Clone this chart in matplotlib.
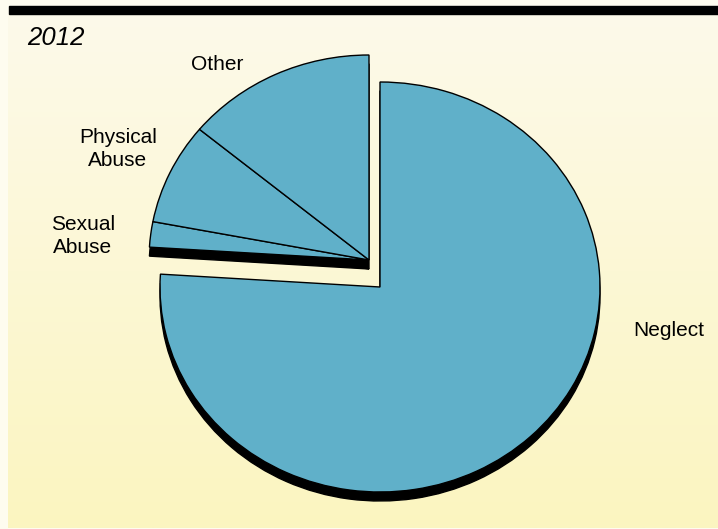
import numpy as np
import matplotlib.pyplot as plt
from matplotlib.colors import LinearSegmentedColormap

plt.rcParams['font.family'] = ['Liberation Sans', 'DejaVu Sans']

# data (share of cases, %)
categories = ['Neglect', 'Sexual\nAbuse', 'Physical\nAbuse', 'Other']
shares = [76.0, 2.0, 8.0, 14.0]
year = '2012'

W, H = 718, 529          # figure size in px
RX, RY = 220, 205        # pie radius in px (slightly squashed ellipse)
blue = '#60b0c9'


def to_data(px, py):
    return px / RX, (H - py) / RY


fig = plt.figure(figsize=(W / 100, H / 100), dpi=100, facecolor='#fefcef')

# panel with soft yellow gradient
bg = fig.add_axes([8 / W, 1 / H, 1 - 8 / W, 514 / H])
cmap = LinearSegmentedColormap.from_list('bg', ['#fdfaea', '#fbf5c0'])
bg.imshow(np.linspace(0, 1, 256).reshape(-1, 1), aspect='auto', cmap=cmap,
          extent=[0, 1, 0, 1], origin='upper')
bg.axis('off')

# black rule at the top
fig.add_artist(plt.Rectangle((9 / W, 1 - 14.3 / H), 1, 8 / H,
                             transform=fig.transFigure, color='black'))

ax = fig.add_axes([0, 0, 1, 1])
ax.set_facecolor('none')


def draw(offset, color, z):
    main_c = to_data(380, 287 + offset)
    grp_c = to_data(369, 260 + offset)
    wedges, _ = ax.pie(shares, startangle=90, counterclock=False,
                       colors=[color] * len(shares), center=main_c, radius=1,
                       wedgeprops=dict(edgecolor='black', linewidth=1.0))
    # small slices pulled out together
    for w in wedges[1:]:
        w.set_center(grp_c)
    for w in wedges:
        w.set_zorder(z)


draw(9, 'black', 1)   # shadow
draw(0, blue, 2)

ax.set_aspect('auto')
ax.set_xlim(0, W / RX)
ax.set_ylim(0, H / RY)
ax.axis('off')

label_pos = {'Neglect': (669, 331), 'Sexual\nAbuse': (83, 236),
             'Physical\nAbuse': (118, 149), 'Other': (217, 64)}
for cat in categories:
    x, y = label_pos[cat]
    fig.text(x / W, 1 - y / H, cat, ha='center', va='center',
             fontsize=15, linespacing=1.3)

fig.text(27 / W, 1 - 38 / H, year, ha='left', va='center',
         fontsize=18.5, style='italic')

fig.savefig('out.png', dpi=100, facecolor=fig.get_facecolor())
